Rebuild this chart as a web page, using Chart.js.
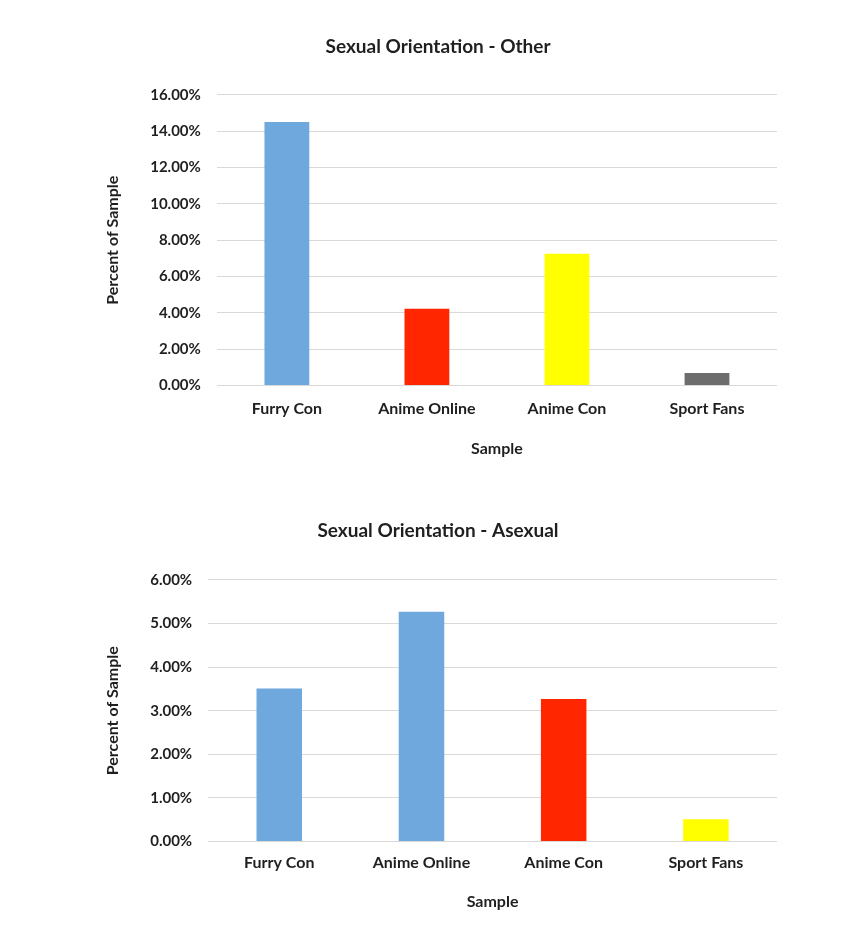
<!DOCTYPE html>
<html>
<head>
<meta charset="utf-8">
<script src="https://cdn.jsdelivr.net/npm/chart.js@4.4.1/dist/chart.umd.min.js"></script>
<style>
    body { margin: 0; background: #fff; width: 850px; height: 945px; position: relative; overflow: hidden; }
    .box { position: absolute; left: 94px; width: 701px; }
</style>
</head>
<body>
<div class="box" style="top:20px;height:460px"><canvas id="chart-other"></canvas></div>
<div class="box" style="top:505px;height:430px"><canvas id="chart-asexual"></canvas></div>
<script>
const samples = ['Furry Con', 'Anime Online', 'Anime Con', 'Sport Fans']

const otherValues = [14.5, 4.23, 7.25, 0.70]
const otherColors = ['#6fa8dc', '#ff2600', '#ffff00', '#6d6d6d']
const otherTicks = [0, 2, 4, 6, 8, 10, 12, 14, 16]

const asexualValues = [3.51, 5.27, 3.27, 0.51]
const asexualColors = ['#6fa8dc', '#6fa8dc', '#ff2600', '#ffff00']
const asexualTicks = [0, 1, 2, 3, 4, 5, 6]

const fontFamily = 'Lato, "Open Sans", sans-serif'
const textColor = '#1f1f1f'

function drawChart(id, title, values, colors, ticks, pad) {
    var ctx = document.getElementById(id).getContext('2d');
    const step = ticks[1] - ticks[0]

    return new Chart(ctx, {
        type: 'bar',
        data: {
            labels: samples,
            datasets: [{
                data: values,
                backgroundColor: colors,
                borderWidth: 0,
                barPercentage: 0.32,
                categoryPercentage: 1
            }]
        },
        options: {
            responsive: true,
            maintainAspectRatio: false,
            animation: false,
            layout: { padding: { top: 10, left: 5, right: 18, bottom: pad.bottom } },
            plugins: {
                legend: { display: false },
                tooltip: { enabled: false },
                title: {
                    display: true,
                    text: title,
                    color: textColor,
                    font: { family: fontFamily, size: 19, weight: 'bold' },
                    padding: { top: pad.titleTop, bottom: pad.titleBottom }
                }
            },
            scales: {
                x: {
                    grid: { display: false, drawTicks: false },
                    border: { display: false },
                    ticks: {
                        color: textColor,
                        padding: pad.tick,
                        font: { family: fontFamily, size: 16, weight: 'bold' }
                    },
                    title: {
                        display: true,
                        text: 'Sample',
                        color: textColor,
                        font: { family: fontFamily, size: 16, weight: 'bold' },
                        padding: { top: pad.xTitle, bottom: 4 }
                    }
                },
                y: {
                    min: ticks[0],
                    max: ticks[ticks.length - 1],
                    grid: { color: '#d9d9d9', lineWidth: 1, drawTicks: false },
                    border: { display: false },
                    afterBuildTicks: (axis) => {
                        axis.ticks = ticks.map(v => ({ value: v }))
                    },
                    ticks: {
                        stepSize: step,
                        color: textColor,
                        padding: 16,
                        font: { family: fontFamily, size: 15, weight: 'bold' },
                        callback: (v) => v.toFixed(2) + '%'
                    },
                    title: {
                        display: true,
                        text: 'Percent of Sample',
                        color: textColor,
                        font: { family: fontFamily, size: 16, weight: 'bold' },
                        padding: { top: 4, bottom: 12 }
                    }
                }
            }
        }
    });
}

drawChart('chart-other', 'Sexual Orientation - Other', otherValues, otherColors, otherTicks,
    { titleTop: 5, titleBottom: 37, tick: 14, xTitle: 6, bottom: 18 })
drawChart('chart-asexual', 'Sexual Orientation - Asexual', asexualValues, asexualColors, asexualTicks,
    { titleTop: 4, titleBottom: 38, tick: 12, xTitle: 7, bottom: 20 })
</script>
</body>
</html>
